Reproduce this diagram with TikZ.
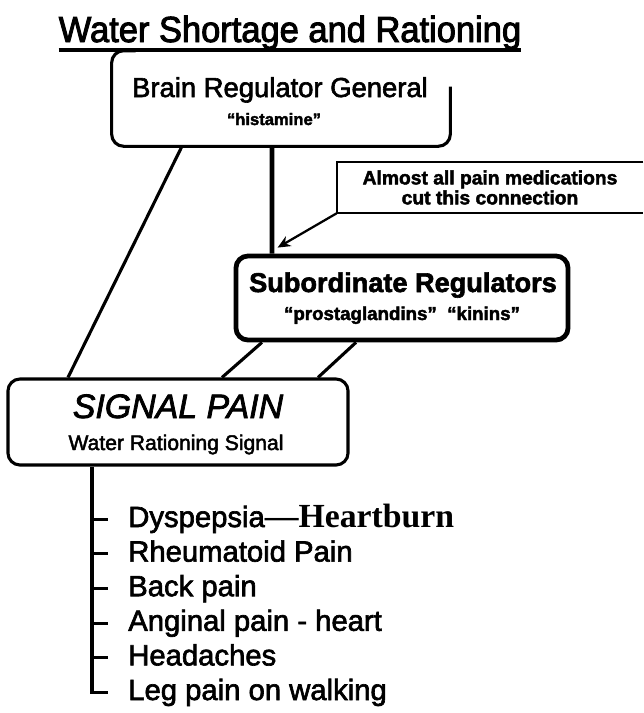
\documentclass[tikz,border=0pt]{standalone}
\usepackage{fontspec}
\setmainfont{Liberation Sans}[FakeBold=2.2]
\newfontfamily\titlefont{Liberation Sans}[FakeStretch=0.95,FakeBold=2.6]
\newfontfamily\serifface{Liberation Serif}
\usetikzlibrary{arrows.meta}

\begin{document}
\begin{tikzpicture}[x=0.025cm,y=-0.025cm,
    thinbox/.style={draw, line width=2.2pt, rounded corners=0.3cm},
    heavybox/.style={draw, line width=3.4pt, rounded corners=0.3cm},
    wire/.style={line width=2.2pt},
    txt/.style={anchor=base, inner sep=0pt},
    item/.style={anchor=base west, inner sep=0pt, text height=15pt, text depth=4pt,
        font=\fontsize{20.8}{24}\selectfont}]
    \useasboundingbox (0,0) rectangle (644,713);

    % Title
    \node[txt, font=\titlefont\fontsize{25.8}{28}\selectfont] (title) at (290,42) {Water Shortage and Rationing};
    \draw[wire] ([yshift=-0.2cm]title.base west) -- ([yshift=-0.2cm]title.base east);

    % Brain regulator (top right corner left open)
    \node[minimum width=8.45cm, minimum height=2.375cm] (brain) at (281,98.5) {};
    \draw[wire, rounded corners=0.3cm] ([yshift=-0.9cm]brain.north east) -- (brain.south east)
        -- (brain.south west) -- (brain.north west) -- ([xshift=0.6cm]brain.north west);
    \node[txt, font=\fontsize{19.5}{22}\selectfont] (brainname) at (280,97) {Brain Regulator General};
    \node[txt, font=\bfseries\fontsize{11.8}{14}\selectfont] (brainsub) at (274,125) {“histamine”};

    % Subordinate regulators
    \node[heavybox, minimum width=8.3cm, minimum height=2.1cm] (sub) at (402,298) {};
    \node[txt, font=\bfseries\fontsize{19.3}{22}\selectfont] (subname) at (403,292) {Subordinate Regulators};
    \node[txt, font=\bfseries\fontsize{13.3}{16}\selectfont] (subsub) at (402,320) {“prostaglandins”\ \ “kinins”};

    % Signal pain
    \node[thinbox, minimum width=8.5cm, minimum height=2.15cm] (pain) at (178,422) {};
    \node[txt, font=\itshape\fontsize{24.1}{28}\selectfont] (painname) at (178,418) {SIGNAL PAIN};
    \node[txt, font=\fontsize{15}{18}\selectfont] (painsub) at (176,450) {Water Rationing Signal};

    % Note on the cut connection
    \node[minimum width=7.65cm, minimum height=1.275cm, align=center, inner sep=0pt,
        font=\bfseries\fontsize{13.7}{14.2}\selectfont] (note) at (490,187.5)
        {Almost all pain medications\\cut this connection};
    \draw[line width=1.6pt] (note.north east) -- (note.north west) -- (note.south west) -- (note.south east);

    % Connections
    \draw[line width=3.4pt] ([xshift=-0.225cm]brain.south) -- ([xshift=-3.25cm]sub.north);
    \draw[wire] ([xshift=-2.475cm]brain.south) -- ([xshift=-2.75cm]pain.north);
    \draw[wire] ([xshift=-3.5cm]sub.south) -- ([xshift=1.1cm]pain.north);
    \draw[wire] ([xshift=-1.15cm]sub.south) -- ([xshift=3.5cm]pain.north);
    \draw[line width=1.6pt, -{Stealth[length=3.2mm,width=2.8mm]}] (note.south west)
        -- ([shift={(1.1cm,0.15cm)}]sub.north west);

    % Symptoms
    \foreach \lbl [count=\k] in {Dyspepsia{\serifface\bfseries\fontsize{24}{24}\selectfont—Heartburn},
        Rheumatoid Pain, Back pain, Anginal pain - heart, Headaches, Leg pain on walking}
        \node[item] (i\k) at (128,492.4+34.6*\k) {\lbl};
    \coordinate (trunk) at ([xshift=-2.15cm]pain.south);
    \draw[wire] (trunk) |- ([xshift=-0.5cm]i6.west);
    \foreach \k in {1,...,5}
        \draw[wire] (trunk |- i\k.west) -- ([xshift=-0.5cm]i\k.west);
\end{tikzpicture}
\end{document}
